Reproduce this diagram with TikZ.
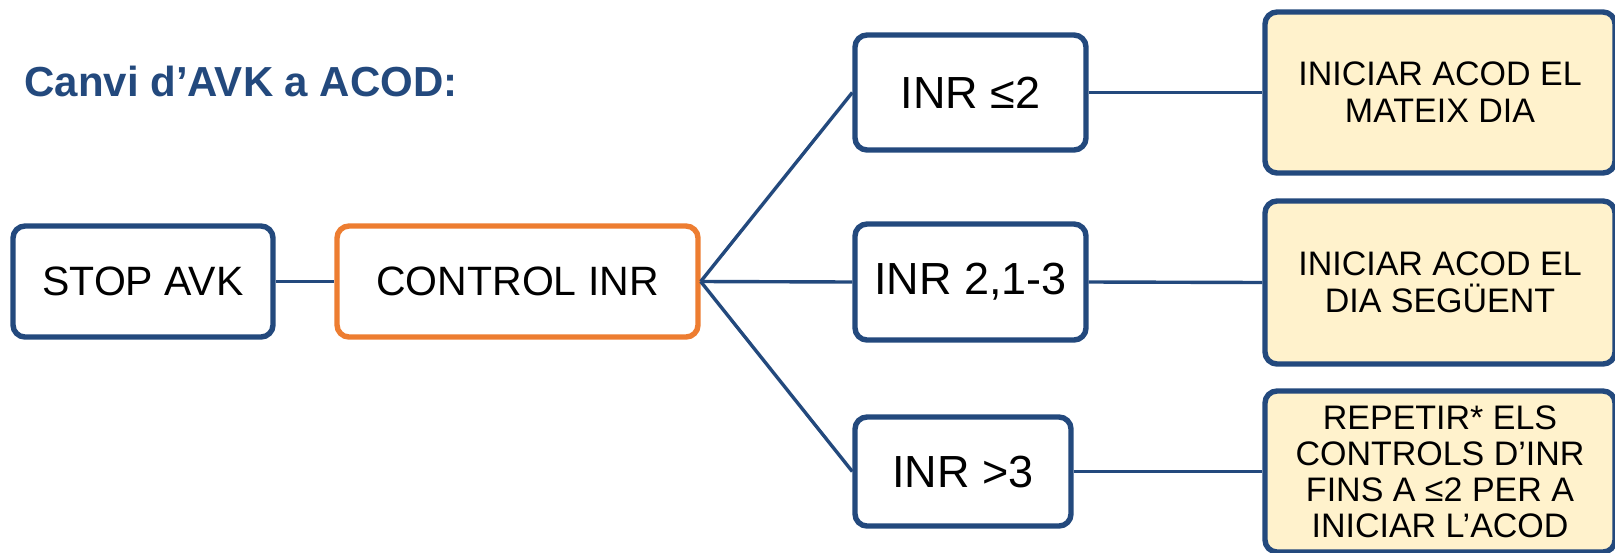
\documentclass[tikz,border=0pt]{standalone}
\usepackage{fontspec}
\setmainfont{Liberation Sans}
\definecolor{dblue}{HTML}{23497D}
\definecolor{orng}{HTML}{ED7D31}
\definecolor{cream}{HTML}{FFF2CC}
\tikzset{
  box/.style={draw=dblue, line width=2.7pt, rounded corners=6pt, fill=white, inner sep=0pt, align=center, text=black},
  obox/.style={box, draw=orng},
  rbox/.style={box, fill=cream, minimum width=175pt, font=\fontsize{17pt}{18.5pt}\selectfont},
  conn/.style={draw=dblue, line width=1.7pt},
}
\begin{document}
\begin{tikzpicture}[x=0.5pt, y=-0.5pt]
\useasboundingbox (0,0) rectangle (1615,552);
\clip (0,0) rectangle (1615,552);
\node[anchor=base west, inner sep=0pt, text=dblue, font=\fontsize{21pt}{25pt}\selectfont\bfseries] (title) at (24,96) {Canvi d’AVK a ACOD:};
\node[box, minimum width=130pt, minimum height=55.5pt, font=\fontsize{20.5pt}{24pt}\selectfont] (stop) at (143,281.5) {STOP AVK};
\node[obox, minimum width=180.5pt, minimum height=55.5pt, font=\fontsize{20.5pt}{24pt}\selectfont] (control) at (517.5,281.5) {CONTROL INR};
\node[box, minimum width=115.5pt, minimum height=57.5pt, font=\fontsize{22.5pt}{26pt}\selectfont] (inr1) at (970.5,92.5) {INR ≤2};
\node[box, minimum width=115.5pt, minimum height=58pt, font=\fontsize{22.5pt}{26pt}\selectfont] (inr2) at (970.5,282) {INR 2,1-3};
\node[box, minimum width=108pt, minimum height=54.5pt, font=\fontsize{22.5pt}{26pt}\selectfont] (inr3) at (963,471.5) {INR >3};
\node[rbox, minimum height=80.5pt] (r1) at (1440,92.5) {INICIAR ACOD EL\\MATEIX DIA};
\node[rbox, minimum height=81.5pt] (r2) at (1440,282.5) {INICIAR ACOD EL\\DIA SEGÜENT};
\node[rbox, minimum height=80.5pt, font=\fontsize{17pt}{18pt}\selectfont] (r3) at (1440,471.5) {REPETIR* ELS\\CONTROLS D’INR\\FINS A ≤2 PER A\\INICIAR L’ACOD};
\path[conn] (stop.east) -- (control.west);
\path[conn] (control.east) -- (inr1.west);
\path[conn] (control.east) -- (inr2.west);
\path[conn] (control.east) -- (inr3.west);
\path[conn] (inr1.east) -- (r1.west);
\path[conn] (inr2.east) -- (r2.west);
\path[conn] (inr3.east) -- (r3.west);
\end{tikzpicture}
\end{document}
